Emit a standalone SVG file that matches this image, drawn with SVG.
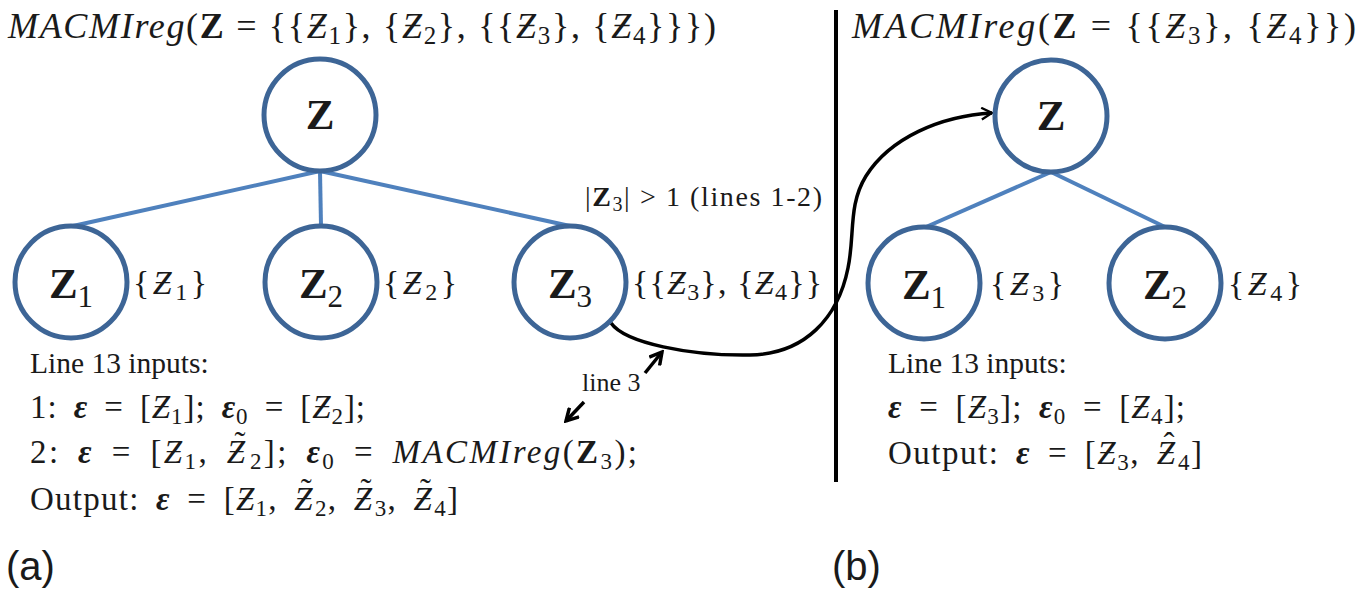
<svg xmlns="http://www.w3.org/2000/svg" width="1368" height="589" viewBox="0 0 1368 589">
<style>
.t{font-family:"Liberation Serif","DejaVu Serif",serif;fill:#1a1a1a}
.i{font-style:italic}
.b{font-weight:bold}
.node{fill:#fff;stroke:#3d6596;stroke-width:5}
.edge{stroke:#4f81bd;stroke-width:4;fill:none}
.nl{font-family:"Liberation Serif","DejaVu Serif",serif;font-size:43px;font-weight:bold;fill:#1a1a1a}
.ns{font-size:31px;font-weight:normal}
.lab{font-family:"Liberation Serif","DejaVu Serif",serif;font-size:34px;fill:#1a1a1a}
.sub{font-size:24px}
.m{font-size:33px;word-spacing:7px}
.s{font-size:23px}
.conn{stroke:#000;stroke-width:3.5;fill:none}
.sans{font-family:"Liberation Sans",Arial,sans-serif;font-size:40px;fill:#1a1a1a}
</style>
<defs>
<marker id="ah" viewBox="0 0 12 12" refX="10" refY="6" markerWidth="14" markerHeight="14" markerUnits="userSpaceOnUse" orient="auto">
<path d="M1,1 L10,6 L1,11" fill="none" stroke="#000" stroke-width="2"/>
</marker>
<marker id="ah2" viewBox="0 0 12 12" refX="10" refY="6" markerWidth="16" markerHeight="16" markerUnits="userSpaceOnUse" orient="auto">
<path d="M1,1 L10,6 L1,11" fill="none" stroke="#000" stroke-width="2.6"/>
</marker>
</defs>

<!-- titles -->
<text class="t" x="8" y="38" font-size="36" textLength="708" lengthAdjust="spacing"><tspan class="i">MACMIreg</tspan>(<tspan class="b">Z</tspan> = {{<tspan class="i">Ƶ</tspan><tspan font-size="25" dy="6">1</tspan><tspan dy="-6">}, {</tspan><tspan class="i">Ƶ</tspan><tspan font-size="25" dy="6">2</tspan><tspan dy="-6">}, {{</tspan><tspan class="i">Ƶ</tspan><tspan font-size="25" dy="6">3</tspan><tspan dy="-6">}, {</tspan><tspan class="i">Ƶ</tspan><tspan font-size="25" dy="6">4</tspan><tspan dy="-6">}}})</tspan></text>
<text class="t" x="852" y="38" font-size="36" textLength="504" lengthAdjust="spacing"><tspan class="i">MACMIreg</tspan>(<tspan class="b">Z</tspan> = {{<tspan class="i">Ƶ</tspan><tspan font-size="25" dy="6">3</tspan><tspan dy="-6">}, {</tspan><tspan class="i">Ƶ</tspan><tspan font-size="25" dy="6">4</tspan><tspan dy="-6">}})</tspan></text>

<!-- divider -->
<line x1="836" y1="10" x2="836" y2="482" stroke="#000" stroke-width="4"/>

<!-- connectors -->
<g id="connectors">
<line class="edge" x1="320" y1="171" x2="73" y2="226"/>
<line class="edge" x1="320" y1="171" x2="321" y2="226"/>
<line class="edge" x1="320" y1="171" x2="570" y2="226"/>
<line class="edge" x1="1051" y1="172" x2="926" y2="227"/>
<line class="edge" x1="1051" y1="172" x2="1165" y2="227"/>
<path class="conn" d="M611,323 C625,343 690,356 750,355 C805,354 838,318 848,268 C855,235 848,205 866,176 C890,138 940,116 992,113" marker-end="url(#ah)"/>
<line x1="645" y1="373" x2="662" y2="352" stroke="#000" stroke-width="3.5" marker-end="url(#ah2)"/>
<line x1="584" y1="402" x2="566" y2="421" stroke="#000" stroke-width="3.5" marker-end="url(#ah2)"/>
</g>

<!-- left tree -->
<g id="nodeZ"><circle class="node" cx="320" cy="115" r="56"/><text class="nl" x="320" y="129" text-anchor="middle">Z</text></g>
<g id="nodeZ1"><circle class="node" cx="71" cy="282" r="56"/><text class="nl" x="71" y="298" text-anchor="middle">Z<tspan class="ns" dy="9">1</tspan></text></g>
<g id="nodeZ2"><circle class="node" cx="321" cy="282" r="56"/><text class="nl" x="321" y="298" text-anchor="middle">Z<tspan class="ns" dy="9">2</tspan></text></g>
<g id="nodeZ3"><circle class="node" cx="570" cy="282" r="56"/><text class="nl" x="570" y="298" text-anchor="middle">Z<tspan class="ns" dy="9">3</tspan></text></g>

<!-- right tree -->
<g id="nodeRZ"><circle class="node" cx="1051" cy="116" r="56"/><text class="nl" x="1051" y="130" text-anchor="middle">Z</text></g>
<g id="nodeRZ1"><circle class="node" cx="924" cy="283" r="56"/><text class="nl" x="924" y="299" text-anchor="middle">Z<tspan class="ns" dy="9">1</tspan></text></g>
<g id="nodeRZ2"><circle class="node" cx="1165" cy="283" r="56"/><text class="nl" x="1165" y="299" text-anchor="middle">Z<tspan class="ns" dy="9">2</tspan></text></g>

<!-- set labels -->
<text class="lab" x="133" y="294" textLength="74" lengthAdjust="spacing">{<tspan class="i">Ƶ</tspan><tspan class="sub" dy="6">1</tspan><tspan dy="-6">}</tspan></text>
<text class="lab" x="383" y="294" textLength="74" lengthAdjust="spacing">{<tspan class="i">Ƶ</tspan><tspan class="sub" dy="6">2</tspan><tspan dy="-6">}</tspan></text>
<text class="lab" x="632" y="294" textLength="190" lengthAdjust="spacing">{{<tspan class="i">Ƶ</tspan><tspan class="sub" dy="6">3</tspan><tspan dy="-6">}, {</tspan><tspan class="i">Ƶ</tspan><tspan class="sub" dy="6">4</tspan><tspan dy="-6">}}</tspan></text>
<text class="lab" x="990" y="295" textLength="74" lengthAdjust="spacing">{<tspan class="i">Ƶ</tspan><tspan class="sub" dy="6">3</tspan><tspan dy="-6">}</tspan></text>
<text class="lab" x="1228" y="295" textLength="74" lengthAdjust="spacing">{<tspan class="i">Ƶ</tspan><tspan class="sub" dy="6">4</tspan><tspan dy="-6">}</tspan></text>
<text class="t" x="585" y="206" font-size="28" textLength="237" lengthAdjust="spacing">|<tspan class="b">Z</tspan><tspan font-size="20" dy="5">3</tspan><tspan dy="-5">| &gt; 1 (lines 1-2)</tspan></text>

<!-- line 3 label -->
<text class="t" x="582" y="391" font-size="26">line 3</text>

<!-- left bottom texts -->
<text class="t" x="30" y="373" font-size="29.5">Line 13 inputs:</text>
<text class="t m" x="30" y="418" textLength="335" lengthAdjust="spacing">1: <tspan class="i b">ε</tspan> = [<tspan class="i">Ƶ</tspan><tspan class="s" dy="6">1</tspan><tspan dy="-6">]; </tspan><tspan class="i b">ε</tspan><tspan class="s" dy="6">0</tspan><tspan dy="-6"> = [</tspan><tspan class="i">Ƶ</tspan><tspan class="s" dy="6">2</tspan><tspan dy="-6">];</tspan></text>
<text class="t m" x="30" y="463" textLength="607" lengthAdjust="spacing">2: <tspan class="i b">ε</tspan> = [<tspan class="i">Ƶ</tspan><tspan class="s" dy="6">1</tspan><tspan dy="-6">, </tspan><tspan class="i">Ƶ</tspan><tspan dx="-13" dy="-8">˜</tspan><tspan class="s" dx="2" dy="14">2</tspan><tspan dy="-6">]; </tspan><tspan class="i b">ε</tspan><tspan class="s" dy="6">0</tspan><tspan dy="-6"> = </tspan><tspan class="i">MACMIreg</tspan>(<tspan class="b">Z</tspan><tspan class="s" dy="6">3</tspan><tspan dy="-6">);</tspan></text>
<text class="t m" x="30" y="510" textLength="428" lengthAdjust="spacing">Output: <tspan class="i b">ε</tspan> = [<tspan class="i">Ƶ</tspan><tspan class="s" dy="6">1</tspan><tspan dy="-6">, </tspan><tspan class="i">Ƶ</tspan><tspan dx="-13" dy="-8">˜</tspan><tspan class="s" dx="2" dy="14">2</tspan><tspan dy="-6">, </tspan><tspan class="i">Ƶ</tspan><tspan dx="-13" dy="-8">˜</tspan><tspan class="s" dx="2" dy="14">3</tspan><tspan dy="-6">, </tspan><tspan class="i">Ƶ</tspan><tspan dx="-13" dy="-8">˜</tspan><tspan class="s" dx="2" dy="14">4</tspan><tspan dy="-6">]</tspan></text>

<!-- right bottom texts -->
<text class="t" x="888" y="373" font-size="29.5">Line 13 inputs:</text>
<text class="t m" x="888" y="418" textLength="297" lengthAdjust="spacing"><tspan class="i b">ε</tspan> = [<tspan class="i">Ƶ</tspan><tspan class="s" dy="6">3</tspan><tspan dy="-6">]; </tspan><tspan class="i b">ε</tspan><tspan class="s" dy="6">0</tspan><tspan dy="-6"> = [</tspan><tspan class="i">Ƶ</tspan><tspan class="s" dy="6">4</tspan><tspan dy="-6">];</tspan></text>
<text class="t m" x="888" y="464" textLength="314" lengthAdjust="spacing">Output: <tspan class="i b">ε</tspan> = [<tspan class="i">Ƶ</tspan><tspan class="s" dy="6">3</tspan><tspan dy="-6">, </tspan><tspan class="i">Ƶ</tspan><tspan dx="-13" dy="-8">ˆ</tspan><tspan class="s" dx="2" dy="14">4</tspan><tspan dy="-6">]</tspan></text>

<!-- panel labels -->
<text class="sans" x="6" y="580">(a)</text>
<text class="sans" x="832" y="580">(b)</text>
</svg>
